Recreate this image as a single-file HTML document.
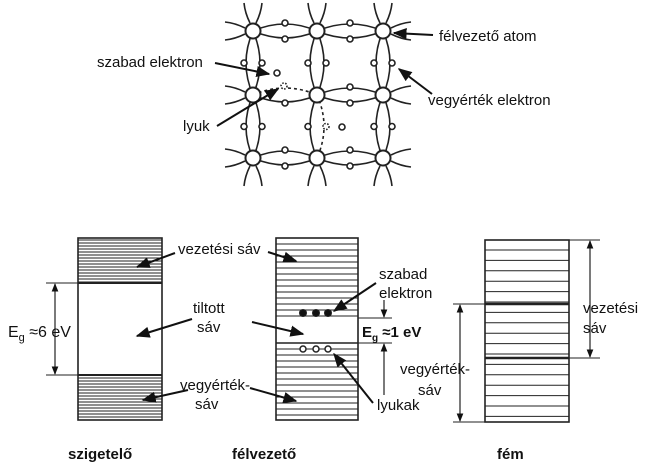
<!DOCTYPE html>
<html><head><meta charset="utf-8"><style>
html,body{margin:0;padding:0;background:#fff;width:647px;height:463px;overflow:hidden}
text{font-family:"Liberation Sans","DejaVu Sans",sans-serif;fill:#111}
</style></head><body>
<svg id="s" width="647" height="463" viewBox="0 0 647 463" xmlns="http://www.w3.org/2000/svg">
<defs><marker id="a" viewBox="0 0 10 10" refX="9" refY="5" markerWidth="7" markerHeight="7" orient="auto"><path d="M0,1 L10,5 L0,9 z" fill="#111"/></marker></defs>
<g id="lat" stroke="#222" fill="none" stroke-width="1.6"></g>
<g id="bands" stroke="#222" fill="none"></g>
<g stroke="#111" stroke-width="2" fill="none" marker-end="url(#a)">
<line x1="433" y1="35" x2="394" y2="33"/>
<line x1="432" y1="94" x2="399" y2="69"/>
<line x1="215" y1="63" x2="269" y2="74"/>
<line x1="217" y1="126" x2="278" y2="89"/>
<line x1="175" y1="253" x2="137" y2="267"/>
<line x1="192" y1="319" x2="137" y2="336"/>
<line x1="188" y1="390" x2="143" y2="400"/>
<line x1="268" y1="252" x2="296" y2="261"/>
<line x1="252" y1="322" x2="303" y2="334"/>
<line x1="250" y1="388" x2="296" y2="401"/>
<line x1="376" y1="283" x2="334" y2="311"/>
<line x1="373" y1="403" x2="334" y2="354"/>
</g>
<g font-size="15">
<text x="439" y="41">félvezető atom</text>
<text x="428" y="105">vegyérték elektron</text>
<text x="97" y="67">szabad elektron</text>
<text x="183" y="131">lyuk</text>
<text x="178" y="254">vezetési sáv</text>
<text x="193" y="313">tiltott</text>
<text x="197" y="332">sáv</text>
<text x="180" y="390">vegyérték-</text>
<text x="195" y="409">sáv</text>
<text x="379" y="279">szabad</text>
<text x="379" y="298">elektron</text>
<text x="377" y="410">lyukak</text>
<text x="583" y="313">vezetési</text>
<text x="583" y="333">sáv</text>
<text x="400" y="374">vegyérték-</text>
<text x="418" y="395">sáv</text>
<text x="8" y="337" font-size="16">E<tspan font-size="11" dy="4">g</tspan><tspan dy="-4"> ≈6 eV</tspan></text>
<text x="362" y="337" font-size="15" font-weight="bold">E<tspan font-size="10" dy="4">g</tspan><tspan dy="-4"> ≈1 eV</tspan></text>
</g>
<g font-size="15" font-weight="bold">
<text x="68" y="459">szigetelő</text>
<text x="232" y="459">félvezető</text>
<text x="497" y="459">fém</text>
</g>
</svg>
<script>
var NS="http://www.w3.org/2000/svg";
function el(p,t,a){var e=document.createElementNS(NS,t);for(var k in a)e.setAttribute(k,a[k]);document.getElementById(p).appendChild(e);return e;}
var X=[253,317,383],Y=[31,95,158];
function bond(x1,y1,x2,y2,dash){
 var mx=(x1+x2)/2,my=(y1+y2)/2,h=x1==x2;
 [-1,1].forEach(function(s){
  var cx=h?mx+s*14:mx, cy=h?my:my+s*14;
  var o={d:"M"+x1+","+y1+" Q"+cx+","+cy+" "+x2+","+y2};
  if(dash&&dash==s)o["stroke-dasharray"]="3,3";
  el("lat","path",o);
 });
}
for(var i=0;i<3;i++)for(var j=0;j<3;j++){
 if(i<2)bond(X[i],Y[j],X[i+1],Y[j],(i==0&&j==1)?-1:0);
 if(j<2)bond(X[i],Y[j],X[i],Y[j+1],(i==1&&j==1)?1:0);
}
for(var i=0;i<3;i++)for(var j=0;j<3;j++){
 var x=X[i],y=Y[j];
 if(i==0){el("lat","path",{d:"M"+(x-8)+","+(y-3)+" Q"+(x-18)+","+(y-8)+" "+(x-28)+","+(y-9)});el("lat","path",{d:"M"+(x-8)+","+(y+3)+" Q"+(x-18)+","+(y+8)+" "+(x-28)+","+(y+9)});}
 if(i==2){el("lat","path",{d:"M"+(x+8)+","+(y-3)+" Q"+(x+18)+","+(y-8)+" "+(x+28)+","+(y-9)});el("lat","path",{d:"M"+(x+8)+","+(y+3)+" Q"+(x+18)+","+(y+8)+" "+(x+28)+","+(y+9)});}
 if(j==0){el("lat","path",{d:"M"+(x-3)+","+(y-8)+" Q"+(x-8)+","+(y-18)+" "+(x-9)+","+(y-28)});el("lat","path",{d:"M"+(x+3)+","+(y-8)+" Q"+(x+8)+","+(y-18)+" "+(x+9)+","+(y-28)});}
 if(j==2){el("lat","path",{d:"M"+(x-3)+","+(y+8)+" Q"+(x-8)+","+(y+18)+" "+(x-9)+","+(y+28)});el("lat","path",{d:"M"+(x+3)+","+(y+8)+" Q"+(x+8)+","+(y+18)+" "+(x+9)+","+(y+28)});}
}
for(var i=0;i<3;i++)for(var j=0;j<3;j++)el("lat","circle",{cx:X[i],cy:Y[j],r:7.5,fill:"#fff","stroke-width":2});
function e(x,y,d){var o={cx:x,cy:y,r:3,fill:"#fff","stroke-width":1.6};if(d)o["stroke-dasharray"]="1.5,1.5";el("lat","circle",o);}
for(var i=0;i<2;i++)for(var j=0;j<3;j++){var mx=(X[i]+X[i+1])/2;
 if(i==0&&j==1){e(mx,Y[j]+8);e(284,86,1);} else {e(mx,Y[j]-8);e(mx,Y[j]+8);}}
for(var i=0;i<3;i++)for(var j=0;j<2;j++){var my=(Y[j]+Y[j+1])/2;
 if(i==1&&j==1){e(X[i]-9,my);e(X[i]+9,my,1);} else {e(X[i]-9,my);e(X[i]+9,my);}}
e(277,73);e(342,127);
function lines(x1,x2,y1,y2,sp){for(var y=y1;y<=y2;y+=sp)el("bands","line",{x1:x1,x2:x2,y1:y,y2:y,"stroke-width":1});}
el("bands","rect",{x:78,y:238,width:84,height:182,"stroke-width":1.6});
lines(78,162,240,283,3);lines(78,162,375,419,3);
el("bands","line",{x1:78,x2:162,y1:283,y2:283,"stroke-width":2});
el("bands","line",{x1:78,x2:162,y1:375,y2:375,"stroke-width":2});
el("bands","rect",{x:276,y:238,width:82,height:182,"stroke-width":1.6});
lines(276,358,244,318,6);lines(276,358,349,418,6);
el("bands","line",{x1:276,x2:358,y1:343,y2:343,"stroke-width":1.6});
[303,316,328].forEach(function(x){el("bands","circle",{cx:x,cy:313,r:3.5,fill:"#111"});el("bands","circle",{cx:x,cy:349,r:3,fill:"#fff","stroke-width":1.5});});
el("bands","rect",{x:485,y:240,width:84,height:182,"stroke-width":1.6});
lines(485,569,250,420,10.4);
el("bands","line",{x1:485,x2:569,y1:304,y2:304,"stroke-width":2.5});
el("bands","line",{x1:485,x2:569,y1:358,y2:358,"stroke-width":2.5});
var m=document.createElementNS(NS,"marker");m.setAttribute("id","b");m.setAttribute("viewBox","0 0 10 10");m.setAttribute("refX","1");m.setAttribute("refY","5");m.setAttribute("markerWidth","7");m.setAttribute("markerHeight","7");m.setAttribute("orient","auto");
var p=document.createElementNS(NS,"path");p.setAttribute("d","M10,1 L0,5 L10,9 z");p.setAttribute("fill","#111");m.appendChild(p);document.querySelector("defs").appendChild(m);
function dim(x,y1,y2,t1,t2){el("bands","line",{x1:t1,x2:t2,y1:y1,y2:y1,"stroke-width":1});el("bands","line",{x1:t1,x2:t2,y1:y2,y2:y2,"stroke-width":1});
 el("bands","line",{x1:x,x2:x,y1:y1+1,y2:y2-1,"stroke-width":1.2,"marker-end":"url(#a)","marker-start":"url(#b)"});}
dim(55,283,375,46,78);
dim(590,240,358,569,600);
dim(460,304,422,453,485);
el("bands","line",{x1:358,x2:392,y1:318,y2:318,"stroke-width":1});
el("bands","line",{x1:358,x2:392,y1:343,y2:343,"stroke-width":1});
el("bands","line",{x1:384,x2:384,y1:300,y2:317,"stroke-width":1.2,"marker-end":"url(#a)"});
el("bands","line",{x1:384,x2:384,y1:395,y2:344,"stroke-width":1.2,"marker-end":"url(#a)"});
</script>
</body></html>
